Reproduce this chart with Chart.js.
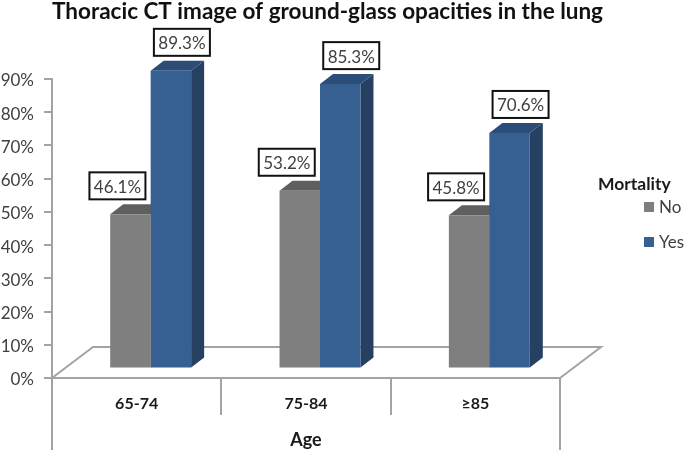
<!DOCTYPE html>
<html>
<head>
<meta charset="utf-8">
<title>Thoracic CT image of ground-glass opacities in the lung</title>
<script src="https://cdn.jsdelivr.net/npm/chart.js@4"></script>
<style>
    html, body { margin: 0; padding: 0; background: #ffffff; }
    canvas { display: block; }
</style>
</head>
<body>
<canvas id="grafico" width="685" height="453"></canvas>
<script>
// Datos
const categorias = ['65-74', '75-84', '≥85'];
const valoresNo = [46.1, 53.2, 45.8];
const valoresYes = [89.3, 85.3, 70.6];
const etiquetasY = ['0%', '10%', '20%', '30%', '40%', '50%', '60%', '70%', '80%', '90%'];

const fuente = 'Lato, Calibri, sans-serif';
const colorLinea = '#a3a3a3';
const colorTexto = '#404040';

// Profundidad del falso 3D, en pixeles
const fondoBarra = { x: 13, y: 10 };
const fondoPiso = { x: 41, y: 31 };

// Las barras van en ejes ocultos, corridos respecto a los visibles
const desplazamientoPiso = 10.5 / 3.322;
const desplazamientoX = 14 / 169.33;

function poligono(ctx, puntos, color) {
    ctx.fillStyle = color;
    ctx.beginPath();
    puntos.forEach((p, i) => i ? ctx.lineTo(p[0], p[1]) : ctx.moveTo(p[0], p[1]));
    ctx.closePath();
    ctx.fill();
}

const plugin3d = {
    id: 'plugin3d',
    afterUpdate(chart) {
        // Lato queda un poco alto respecto a la marca del eje
        chart.scales.y.getLabelItems(chart.chartArea).forEach(item => { item.options.translation[1] += 2; });
    },
    beforeDatasetsDraw(chart) {
        const { ctx, chartArea: a } = chart;
        const dx = fondoBarra.x, dy = fondoBarra.y;

        // Piso y lineas largas de los extremos
        ctx.save();
        ctx.strokeStyle = colorLinea;
        ctx.lineWidth = 2;
        ctx.beginPath();
        ctx.moveTo(a.left, a.bottom);
        ctx.lineTo(a.left + fondoPiso.x, a.bottom - fondoPiso.y);
        ctx.lineTo(a.right + fondoPiso.x, a.bottom - fondoPiso.y);
        ctx.lineTo(a.right, a.bottom);
        ctx.moveTo(a.left, a.bottom);
        ctx.lineTo(a.left, 450);
        ctx.moveTo(a.right, a.bottom);
        ctx.lineTo(a.right, 450);
        ctx.stroke();

        // Caras superior y lateral de cada barra
        chart.data.datasets.forEach((ds, i) => {
            chart.getDatasetMeta(i).data.forEach(bar => {
                const izq = bar.x - bar.width / 2;
                const der = bar.x + bar.width / 2;
                poligono(ctx, [[der, bar.y], [der + dx, bar.y - dy], [der + dx, bar.base - dy], [der, bar.base]], ds.colorLado);
                poligono(ctx, [[izq, bar.y], [izq + dx, bar.y - dy], [der + dx, bar.y - dy], [der, bar.y]], ds.colorTapa);
            });
        });
        ctx.restore();
    },
    afterDatasetsDraw(chart) {
        const { ctx } = chart;

        // Cajas con el valor de cada barra
        ctx.save();
        ctx.font = '17px ' + fuente;
        ctx.textAlign = 'center';
        ctx.textBaseline = 'middle';
        chart.data.datasets.forEach((ds, i) => {
            chart.getDatasetMeta(i).data.forEach((bar, j) => {
                const cx = bar.x + ds.corrimientoCaja;
                const abajo = bar.y - 15;
                ctx.fillStyle = '#ffffff';
                ctx.fillRect(cx - 28, abajo - 27, 56, 27);
                ctx.strokeStyle = '#111111';
                ctx.lineWidth = 2;
                ctx.strokeRect(cx - 28, abajo - 27, 56, 27);
                ctx.fillStyle = colorTexto;
                ctx.fillText(ds.data[j].y.toFixed(1) + '%', cx, abajo - 12);
            });
        });

        // Leyenda
        ctx.textAlign = 'left';
        ctx.fillStyle = '#1a1a1a';
        ctx.font = 'bold 17.5px ' + fuente;
        ctx.fillText('Mortality', 598, 184);
        ctx.font = '17px ' + fuente;
        chart.data.datasets.forEach((ds, i) => {
            const y = 207 + i * 35;
            ctx.fillStyle = ds.backgroundColor;
            ctx.fillRect(644, y - 5, 10, 10);
            ctx.fillStyle = colorTexto;
            ctx.fillText(ds.label, 659, y + 1);
        });
        ctx.restore();
    }
};

new Chart(document.getElementById('grafico'), {
    type: 'bar',
    data: {
        labels: categorias,
        datasets: [
            {
                label: 'No',
                data: valoresNo.map((v, i) => ({ x: i, y: v })),
                backgroundColor: '#7f7f7f',
                colorTapa: '#5f5f5f',
                colorLado: '#5f5f5f',
                corrimientoCaja: -13,
                xAxisID: 'xBarras',
                yAxisID: 'yBarras',
                clip: false,
                categoryPercentage: 0.478,
                barPercentage: 1
            },
            {
                label: 'Yes',
                data: valoresYes.map((v, i) => ({ x: i, y: v })),
                backgroundColor: '#376092',
                colorTapa: '#2b4d78',
                colorLado: '#254061',
                corrimientoCaja: 11,
                xAxisID: 'xBarras',
                yAxisID: 'yBarras',
                clip: false,
                categoryPercentage: 0.478,
                barPercentage: 1
            }
        ]
    },
    options: {
        responsive: false,
        animation: false,
        layout: { padding: { top: 0, right: 30, bottom: 0, left: 0 } },
        plugins: {
            legend: { display: false },
            tooltip: { enabled: false },
            title: {
                display: true,
                text: 'Thoracic CT image of ground-glass opacities in the lung',
                color: '#111111',
                font: { family: fuente, size: 22.5, weight: 'bold' },
                padding: { top: -2, bottom: 54 }
            }
        },
        scales: {
            x: {
                type: 'category',
                offset: true,
                grid: { offset: true, drawOnChartArea: false, color: colorLinea, lineWidth: 2, tickLength: 37 },
                border: { color: colorLinea, width: 2 },
                ticks: { color: '#1a1a1a', padding: -21, font: { family: fuente, size: 16, weight: 'bold' } },
                title: {
                    display: true,
                    text: 'Age',
                    color: '#1a1a1a',
                    font: { family: fuente, size: 18, weight: 'bold' },
                    padding: { top: 0, bottom: 2 }
                },
                afterFit(escala) { escala.height = 75; }
            },
            y: {
                min: 0,
                max: 90,
                grid: { drawOnChartArea: false, color: colorLinea, lineWidth: 2, tickLength: 8 },
                border: { color: colorLinea, width: 2 },
                ticks: {
                    stepSize: 10,
                    color: colorTexto,
                    padding: 10,
                    font: { family: fuente, size: 17 },
                    callback: (v, i) => etiquetasY[i]
                },
                afterFit(escala) { escala.width = 52; }
            },
            xBarras: {
                type: 'linear',
                display: false,
                offset: false,
                grid: { offset: false },
                min: -0.5 - desplazamientoX,
                max: 2.5 - desplazamientoX,
                // un tick por grupo, asi el ancho de barra sale de la distancia entre grupos
                afterBuildTicks(escala) { escala.ticks = categorias.map((c, i) => ({ value: i })); }
            },
            yBarras: {
                type: 'linear',
                position: 'right',
                min: -desplazamientoPiso,
                max: 90 - desplazamientoPiso,
                grid: { display: false },
                border: { display: false },
                ticks: { display: false },
                afterFit(escala) { escala.width = 95; }
            }
        }
    },
    plugins: [plugin3d]
});
</script>
</body>
</html>
